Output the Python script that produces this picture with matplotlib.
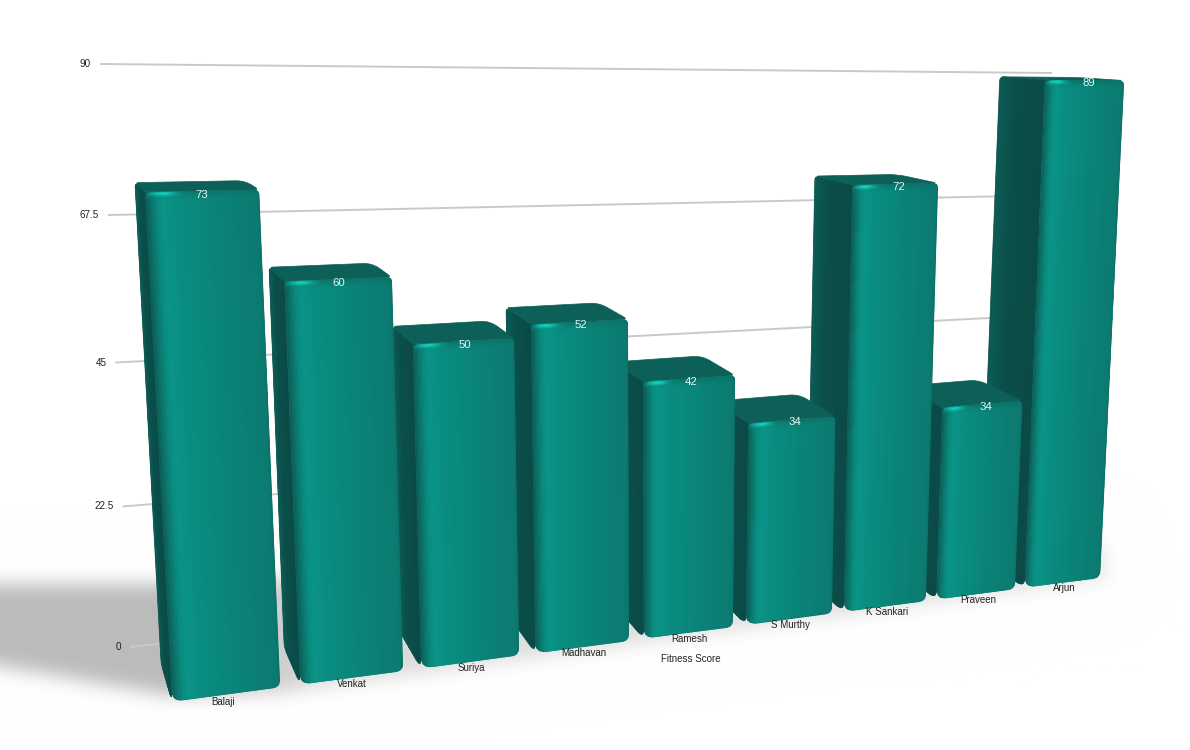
import numpy as np
import matplotlib
matplotlib.use("Agg")
import matplotlib.pyplot as plt
from matplotlib.path import Path
from matplotlib.patches import PathPatch, Polygon
from matplotlib.colors import to_rgb

# ---- data ----
categories = ["Balaji", "Venkat", "Suriya", "Madhavan", "Ramesh", "S Murthy", "K Sankari", "Praveen", "Arjun"]
values = [73, 60, 50, 52, 42, 34, 72, 34, 89]
ytick_values = [0, 22.5, 45, 67.5, 90]
ytick_labels = ["0", "22.5", "45", "67.5", "90"]
axis_title = "Fitness Score"

# ---- perspective layout (pixel anchors of the camera, not data) ----
BASE_PX = [(279, 688), (402, 671), (518, 656), (628, 640), (733, 625), (832, 612), (926, 600), (1016, 588), (1101, 576)]
TOP_PX = [(261, 187), (392, 277), (515, 338), (628, 319), (735, 380), (835, 420), (937, 183), (1022, 405), (1123, 78)]
WALL_SRC = [(0, 0), (0, 90), (1, 90), (1, 0)]
WALL_PX = [(130, 647), (100, 64), (1052, 73), (1040, 548)]
VX, VY, TX, TY = -112.0, 25.0, 0.0389, 0.0557


def bar_width(i):
    return 0.83 + 0.06 * i / 8


def fit_h(src, dst):
    A, b = [], []
    for (x, y), (u, v) in zip(src, dst):
        A.append([x, y, 1, 0, 0, 0, -u * x, -u * y]); b.append(u)
        A.append([0, 0, 0, x, y, 1, -v * x, -v * y]); b.append(v)
    h = np.linalg.lstsq(np.array(A, float), np.array(b, float), rcond=None)[0]
    return np.append(h, 1).reshape(3, 3)


def apply_h(H, x, y):
    x, y = np.asarray(x, float), np.asarray(y, float)
    w = H[2, 0] * x + H[2, 1] * y + H[2, 2]
    return (H[0, 0] * x + H[0, 1] * y + H[0, 2]) / w, (H[1, 0] * x + H[1, 1] * y + H[1, 2]) / w


src = [(i + 1, 0) for i in range(9)] + [(i + 1, v) for i, v in enumerate(values)]
H_front = fit_h(src, BASE_PX + TOP_PX)
H_wall = fit_h(WALL_SRC, WALL_PX)


def project(e, v, d=0.0):
    x, y = apply_h(H_front, e, v)
    return x + (VX - x) * TX * d, y + (VY - y) * TY * d


def rounded(points, radii):
    pts = [np.array(p, float) for p in points]
    n = len(pts)
    verts, codes = [], []
    for k in range(n):
        p, a, b = pts[k], pts[k - 1], pts[(k + 1) % n]
        r = radii[k]
        da, db = a - p, b - p
        ra = min(r, np.hypot(*da) * 0.49)
        rb = min(r, np.hypot(*db) * 0.49)
        p0 = p + da / max(np.hypot(*da), 1e-6) * ra
        p1 = p + db / max(np.hypot(*db), 1e-6) * rb
        verts.append(p0); codes.append(Path.MOVETO if k == 0 else Path.LINETO)
        verts += [p, p1]; codes += [Path.CURVE3, Path.CURVE3]
    verts.append(verts[0]); codes.append(Path.CLOSEPOLY)
    return Path(verts, codes)


def ramp(t, stops):
    pos = [s[0] for s in stops]
    cols = np.array([to_rgb(s[1]) for s in stops])
    return np.stack([np.interp(t, pos, cols[:, c]) for c in range(3)], axis=-1)


FRONT_STOPS = [(0, "#0c5c55"), (.04, "#0b6f66"), (.10, "#0a8a7e"), (.15, "#0a9387"), (.3, "#0a8c80"),
               (.55, "#0a8579"), (.85, "#0b7d72"), (.97, "#0c7a70"), (1, "#0b736a")]
SIDE_STOPS = [(0, "#0b4a46"), (.7, "#0b4f4a"), (1, "#0c5c55")]
TOP_COLOR = "#0c6057"

fig = plt.figure(figsize=(11.9, 7.5), dpi=100, facecolor="white")
ax = fig.add_axes([0, 0, 1, 1])
ax.axis("off")

# ---- soft floor shadow ----
W, Hh = 1190, 750
pad = 100
gx, gy = np.meshgrid(np.arange(-pad, W + pad), np.arange(-pad, Hh + pad))
blob = Path([(-200, 585), (170, 583), (1100, 540), (1106, 578), (278, 692), (170, 695), (-200, 631), (-200, 585)])
mask = blob.contains_points(np.c_[gx.ravel(), gy.ravel()]).reshape(gx.shape).astype(float)
fy = np.fft.fftfreq(mask.shape[0])[:, None]
fx = np.fft.rfftfreq(mask.shape[1])[None, :]
sigma = 9.0
blur = np.fft.irfft2(np.fft.rfft2(mask) * np.exp(-2 * (np.pi * sigma) ** 2 * (fx ** 2 + fy ** 2)), s=mask.shape)
blur = np.clip(blur[pad:pad + Hh, pad:pad + W], 0, 1)
weight = np.interp(np.arange(W), [0, 200, 320, 1190], [1.0, 1.0, 0.55, 0.4])
gray = 1 - 0.265 * blur * weight
ax.imshow(np.dstack([gray] * 3), extent=(0, W, Hh, 0), zorder=0, aspect="auto", interpolation="bilinear")
ax.set_xlim(0, 1190)
ax.set_ylim(750, 0)

# ---- back wall grid ----
for tv, lab in zip(ytick_values, ytick_labels):
    xs, ys = apply_h(H_wall, np.array([0.0, 1.0]), np.array([tv, tv]))
    ax.plot(xs, ys, color="#c9c9c9", lw=1.4, zorder=1, solid_capstyle="butt")
    ax.annotate(lab, (xs[0], ys[0]), xytext=(-6.5, 0), textcoords="offset points", ha="right", va="center",
                fontsize=7.1, color="#222222", family="Liberation Sans", zorder=2)

# ---- bars, far ones first ----
z = 3
for i in range(len(values) - 1, -1, -1):
    val = values[i]
    bw = bar_width(i)
    er, el = i + 1.0, i + 1.0 - bw
    fbl, fbr = project(el, 0), project(er, 0)
    ftl, ftr = project(el, val), project(er, val)
    bbl, btl, btr = project(el, 0, 1), project(el, val, 1), project(er, val, 1)

    # backing under the corner where the three faces meet
    ax.add_patch(Polygon([ftl, project(el + bw * 0.2, val), project(el + bw * 0.2, val * 0.9), project(el, val * 0.9)],
                         closed=True, fc="#0c5c55", ec="none", zorder=z - .05))

    # side
    side = PathPatch(rounded([btl, ftl, fbl, bbl], [4, 0, 10, 6]), fc="#0b4f4a", ec="#0b4f4a", lw=0.5, zorder=z)
    ax.add_patch(side)
    dd, ww = np.meshgrid(np.linspace(0, 1.02, 16), np.linspace(-0.02, 1.02, 30))
    sx, sy = project(el, val * ww, dd)
    m = ax.pcolormesh(sx, sy, ramp(0.5 * (dd[:-1, :-1] + dd[1:, 1:]), SIDE_STOPS), shading="flat", zorder=z + .1,
                      linewidth=0, antialiased=False)
    m.set_clip_path(side)

    # top
    ax.add_patch(PathPatch(rounded([btl, btr, ftr, ftl], [4, 9, 5, 0]), fc=TOP_COLOR, ec=TOP_COLOR, lw=0.5, zorder=z + .2))

    # front: the corner at the top left is filled by a square backing before the rounded face
    ax.add_patch(Polygon([ftl, project(el + bw * 0.15, val), project(el + bw * 0.15, val * 0.92), project(el, val * 0.92)],
                         closed=True, fc="#0c6057", ec="none", zorder=z + .25))
    front = PathPatch(rounded([fbl, fbr, ftr, ftl], [11, 7, 5, 7]), fc="#0b6f66", ec="none", zorder=z + .3)
    ax.add_patch(front)
    nu, nv = 90, 160
    uu, tt = np.meshgrid(np.linspace(-0.01, 1.01, nu), np.linspace(0, 1, nv) ** 2)
    mx, my = project(el + bw * uu, val * (1.005 - 1.01 * tt))
    ucell = 0.25 * (uu[:-1, :-1] + uu[1:, :-1] + uu[:-1, 1:] + uu[1:, 1:])
    ycell = 0.25 * (my[:-1, :-1] + my[1:, :-1] + my[:-1, 1:] + my[1:, 1:])
    ytop = project(el + bw * ucell, val)[1]
    wpx = ycell - ytop
    col = ramp(np.clip(ucell, 0, 1), FRONT_STOPS)
    # broad bevel just under the top edge
    bevel = np.clip(1 - wpx / 9.0, 0, 1)[..., None] ** 1.5
    col = col * (1 - bevel) + np.array(to_rgb("#0b7269")) * bevel
    # thin bright highlight
    band = np.exp(-((wpx - 2.0) / 2.4) ** 2)[..., None]
    hl = np.exp(-((ucell - 0.15) / 0.11) ** 2)[..., None]
    amount = band * hl * 0.95
    col = col * (1 - amount) + np.array(to_rgb("#10d6c4")) * amount
    m = ax.pcolormesh(mx, my, col, shading="flat", zorder=z + .4, linewidth=0, antialiased=False)
    m.set_clip_path(front)

    # value label
    lx, ly = project(i + 1 - bw / 2 - 0.01 + 0.0065 * i, val - 0.5)
    ax.text(lx, ly, str(val), ha="center", va="center", fontsize=8.2, color="#e6f4f2",
            family="Liberation Sans", zorder=z + .5)
    z += 1

# ---- category labels ----
for i, name in enumerate(categories):
    lx, ly = project(i + 0.58 - 0.025 * max(0, 1 - i), -1.05)
    ax.text(lx, ly, name, ha="center", va="center", fontsize=7.0, color="#222222",
            family="Liberation Sans", zorder=30)

ax.text(691, 658.5, axis_title, ha="center", va="center", fontsize=7.0, color="#222222",
        family="Liberation Sans", zorder=30)

fig.savefig("out.png", dpi=100, facecolor="white")
